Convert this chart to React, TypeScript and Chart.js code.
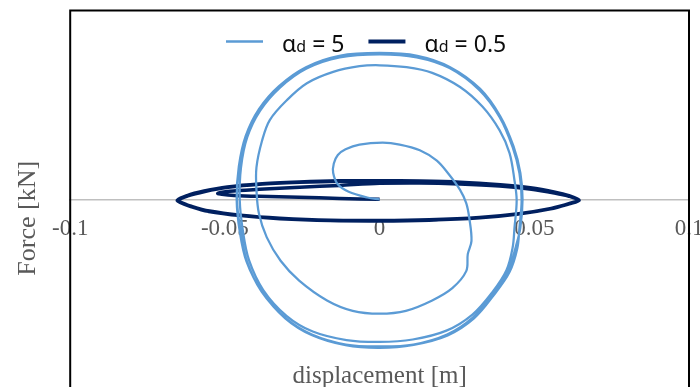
import React, { useEffect, useRef } from "react";
import { Chart, registerables } from "chart.js";

Chart.register(...registerables);

// ---------- data ----------
const xTickValues = [-0.1, -0.05, 0, 0.05, 0.1];
const xTickLabels = ["-0.1", "-0.05", "0", "0.05", "0.1"];
const xTitle = "displacement [m]";
const yTitle = "Force [kN]";

const seriesLabels = ["αd = 5", "αd = 0.5"];
const legendMain = ["α", "α"];
const legendSub = ["d", "d"];
const legendRest = [" = 5", " = 0.5"];
const seriesColors = ["#5B9BD5", "#002060"];

// alpha_d = 5 (light blue spiral)
const blueX = [
  0.0, -0.004, -0.01, -0.0135, -0.015, -0.0148, -0.0135, -0.011, -0.0065, 0.001,
  0.0065, 0.013, 0.0185, 0.0225, 0.026, 0.028, 0.029, 0.0297, 0.0285, 0.028,
  0.0235, 0.017, 0.0085, 0.0, -0.0087, -0.017, -0.026, -0.032, -0.0365, -0.039,
  -0.0398, -0.0398, -0.038, -0.0355, -0.03, -0.0235, -0.015, -0.0065, 0.0, 0.0087,
  0.017, 0.026, 0.0333, 0.0388, 0.042, 0.0436, 0.0443, 0.0436,
  0.043, 0.041, 0.0365, 0.03, 0.0216, 0.0107, 0.0, -0.0107, -0.0216, -0.03,
  -0.0376, -0.0422, -0.0442, -0.0452, -0.0448, -0.0428, -0.0386, -0.0322, -0.0236, -0.0129,
  0.0, 0.012, 0.0226, 0.0323, 0.0388, 0.043, 0.0452, 0.0459, 0.0452,
  0.0445, 0.042, 0.037, 0.0305, 0.022, 0.011, 0.0, -0.011, -0.022, -0.0305,
  -0.038, -0.043, -0.0452, -0.0462, -0.0455, -0.0433, -0.039, -0.0325, -0.0238, -0.013,
  0.0, 0.0122, 0.0228, 0.0325, 0.039, 0.0433, 0.0455, 0.0462, 0.0455,
  0.044, 0.0415, 0.0368, 0.0302, 0.0218, 0.0109, 0.0, -0.0109, -0.0219, -0.0302,
  -0.0382, -0.0429, -0.0449, -0.0461, -0.0454, -0.0431, -0.0389, -0.0324, -0.0237, -0.013,
  0.0, 0.0121, 0.0227, 0.0324, 0.0389, 0.0431, 0.0453, 0.046
];
const blueY = [
  0.0, 0.01, 0.04, 0.08, 0.14, 0.19, 0.235, 0.265, 0.29, 0.3,
  0.29, 0.26, 0.205, 0.13, 0.05, -0.02, -0.1, -0.22, -0.29, -0.38,
  -0.47, -0.535, -0.59, -0.605, -0.59, -0.535, -0.43, -0.325, -0.2, -0.075,
  0.05, 0.17, 0.31, 0.42, 0.525, 0.615, 0.675, 0.705, 0.71, 0.7,
  0.67, 0.595, 0.49, 0.365, 0.245, 0.1, -0.005, -0.15,
  -0.255, -0.375, -0.49, -0.61, -0.695, -0.742, -0.755, -0.745, -0.7, -0.618,
  -0.48, -0.322, -0.165, -0.005, 0.168, 0.328, 0.47, 0.592, 0.693, 0.752,
  0.768, 0.752, 0.695, 0.578, 0.435, 0.276, 0.138, -0.005, -0.149,
  -0.26, -0.385, -0.505, -0.63, -0.72, -0.77, -0.786, -0.772, -0.718, -0.63,
  -0.49, -0.33, -0.17, 0.0, 0.175, 0.335, 0.478, 0.6, 0.7, 0.76,
  0.775, 0.76, 0.7, 0.585, 0.44, 0.28, 0.14, 0.0, -0.15,
  -0.252, -0.38, -0.497, -0.625, -0.716, -0.769, -0.779, -0.769, -0.716, -0.632,
  -0.487, -0.327, -0.168, -0.003, 0.172, 0.332, 0.475, 0.598, 0.699, 0.757,
  0.773, 0.757, 0.699, 0.583, 0.438, 0.279, 0.139, -0.003
];

// alpha_d = 0.5 (dark navy flat loops)
const navyX = [
  0.0, -0.013, -0.026, -0.039, -0.047, -0.051, -0.0523, -0.0485, -0.0388, -0.0258,
  -0.0129, 0.0, 0.0129, 0.0258, 0.0388, 0.0485, 0.0565, 0.0614, 0.0642,
  0.0614, 0.0555, 0.045, 0.0323, 0.016, 0.0, -0.016, -0.0323, -0.045, -0.055, -0.0605, -0.0652,
  -0.062, -0.0565, -0.049, -0.0388, -0.0258, -0.0129, 0.0, 0.0129, 0.0258, 0.0388, 0.0485, 0.0565, 0.061, 0.0645,
  0.0612, 0.0552, 0.0448, 0.0322, 0.016, 0.0, -0.016, -0.0322, -0.0448, -0.0552, -0.0607, -0.0654,
  -0.0622, -0.0567, -0.0492, -0.039, -0.026, -0.013, 0.0, 0.013, 0.026, 0.039, 0.0487, 0.0567, 0.0612, 0.0645,
  0.0613, 0.0553, 0.0449, 0.0323, 0.016, 0.0, -0.016, -0.0323, -0.0449, -0.0553, -0.0606, -0.0653
];
const navyY = [
  0.0, 0.005, 0.011, 0.016, 0.021, 0.027, 0.032, 0.043, 0.053, 0.064,
  0.074, 0.085, 0.087, 0.082, 0.071, 0.055, 0.034, 0.016, -0.004,
  -0.022, -0.048, -0.076, -0.096, -0.108, -0.112, -0.111, -0.1, -0.084, -0.062, -0.038, -0.008,
  0.018, 0.042, 0.064, 0.08, 0.09, 0.096, 0.097, 0.096, 0.09, 0.076, 0.06, 0.037, 0.018, -0.006,
  -0.024, -0.05, -0.078, -0.098, -0.11, -0.114, -0.112, -0.102, -0.086, -0.064, -0.04, -0.007,
  0.02, 0.044, 0.066, 0.082, 0.092, 0.098, 0.099, 0.097, 0.091, 0.077, 0.061, 0.038, 0.019, -0.005,
  -0.023, -0.049, -0.077, -0.097, -0.109, -0.113, -0.111, -0.101, -0.085, -0.063, -0.039, -0.008
];

const toPoints = (xs: number[], ys: number[]) => xs.map((x, i) => ({ x, y: ys[i] }));

// ---------- plugins ----------
const framePlugin = {
  id: "frameAndLegend",
  afterDatasetsDraw(chart: any) {
    const { ctx, chartArea } = chart;
    const { left, top, right, bottom } = chartArea;
    ctx.save();
    ctx.strokeStyle = "#000000";
    ctx.lineWidth = 2;
    ctx.beginPath();
    ctx.moveTo(left, bottom);
    ctx.lineTo(left, top);
    ctx.lineTo(right, top);
    ctx.lineTo(right, bottom);
    ctx.stroke();

    // legend
    let x = 226;
    const lineY = 41.5;
    const baseY = 52;
    const widths = [2.5, 4];
    for (let i = 0; i < seriesLabels.length; i++) {
      ctx.strokeStyle = seriesColors[i];
      ctx.lineWidth = widths[i];
      ctx.beginPath();
      ctx.moveTo(x, lineY);
      ctx.lineTo(x + 37, lineY);
      ctx.stroke();
      x += 56;
      ctx.fillStyle = "#0d0d0d";
      ctx.textBaseline = "alphabetic";
      ctx.textAlign = "left";
      ctx.font = "23px 'Noto Sans'";
      ctx.fillText(legendMain[i], x, baseY);
      x += ctx.measureText(legendMain[i]).width;
      ctx.font = "16px 'Noto Sans'";
      ctx.fillText(legendSub[i], x, baseY);
      x += ctx.measureText(legendSub[i]).width;
      ctx.font = "23px 'Noto Sans'";
      ctx.fillText(legendRest[i], x, baseY);
      x += ctx.measureText(legendRest[i]).width;
      x += 24;
    }
    ctx.restore();
  },
};

export default function App() {
  const canvasRef = useRef<HTMLCanvasElement | null>(null);

  useEffect(() => {
    if (!canvasRef.current) return;
    const chart = new Chart(canvasRef.current, {
      type: "scatter",
      data: {
        datasets: [
          {
            label: seriesLabels[0],
            data: toPoints(blueX, blueY),
            showLine: true,
            borderColor: seriesColors[0],
            backgroundColor: seriesColors[0],
            borderWidth: 2.25,
            pointRadius: 0,
            tension: 0.35,
            fill: false,
          },
          {
            label: seriesLabels[1],
            data: toPoints(navyX, navyY),
            showLine: true,
            borderColor: seriesColors[1],
            backgroundColor: seriesColors[1],
            borderWidth: 3.5,
            pointRadius: 0,
            tension: 0.3,
            fill: false,
          },
        ],
      },
      options: {
        responsive: false,
        animation: false,
        devicePixelRatio: 1,
        layout: { padding: { left: 0, top: 10.5, right: 11, bottom: 0 } },
        plugins: {
          legend: { display: false },
          tooltip: { enabled: false },
          title: { display: false },
        },
        scales: {
          x: {
            type: "linear",
            position: { y: 0 } as any,
            min: -0.1,
            max: 0.1,
            afterBuildTicks: (scale: any) => {
              scale.ticks = xTickValues.map((v) => ({ value: v }));
            },
            afterFit: (scale: any) => {
              scale.paddingLeft = 0;
              scale.paddingRight = 0;
            },
            grid: { display: false, drawTicks: false },
            border: { display: true, color: "#BFBFBF", width: 1.5 },
            ticks: {
              autoSkip: false,
              maxRotation: 0,
              padding: 16,
              color: "#595959",
              font: { family: "'Liberation Serif'", size: 23 },
              callback: (_v: any, i: number) => xTickLabels[i],
            },
            title: {
              display: true,
              text: xTitle,
              color: "#595959",
              font: { family: "'Liberation Serif'", size: 25 },
              padding: { top: 102, bottom: 0 },
            },
          },
          y: {
            type: "linear",
            min: -1.2,
            max: 1,
            grid: { display: false, drawTicks: false },
            border: { display: false },
            ticks: { display: false },
            afterFit: (scale: any) => {
              scale.paddingTop = 0;
              scale.paddingBottom = 0;
            },
            title: {
              display: true,
              text: yTitle,
              color: "#595959",
              font: { family: "'Liberation Serif'", size: 26 },
              padding: { top: 13, bottom: 26 },
            },
          },
        },
      },
      plugins: [framePlugin],
    });
    return () => chart.destroy();
  }, []);

  return (
    <div
      style={{
        position: "absolute",
        left: 0,
        top: 0,
        width: 700,
        height: 387,
        overflow: "hidden",
      }}
    >
      <canvas ref={canvasRef} width={700} height={426} style={{ display: "block" }} />
    </div>
  );
}
